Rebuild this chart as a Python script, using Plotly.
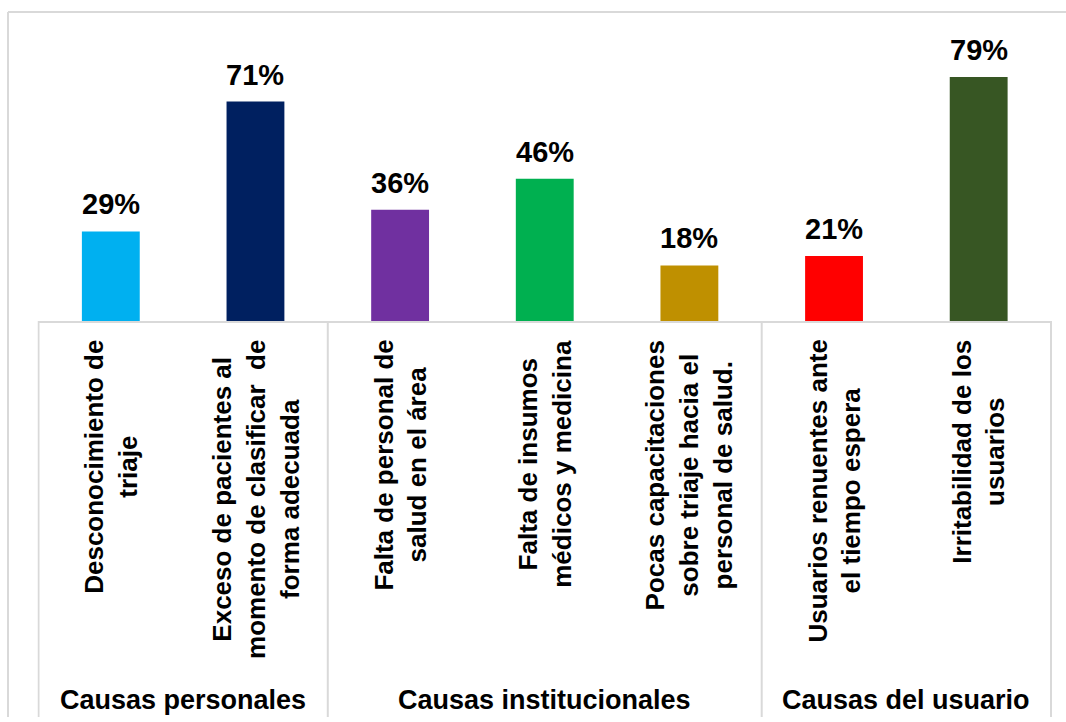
import plotly.graph_objects as go

# Causes grouped by origin, percentage of respondents per cause
groups = ["Causas personales", "Causas institucionales", "Causas del usuario"]
group_sizes = [2, 3, 2]
categories = [
    "Desconocimiento de<br>triaje",
    "Exceso de pacientes al<br>momento de clasificar  de<br>forma adecuada",
    "Falta de personal de<br>salud en el área",
    "Falta de insumos<br>médicos y medicina",
    "Pocas capacitaciones<br>sobre triaje hacia el<br>personal de salud.",
    "Usuarios renuentes ante<br>el tiempo espera",
    "Irritabilidad de los<br>usuarios",
]
values = [29, 71, 36, 46, 18, 21, 79]
colors = ["#00B0F0", "#002060", "#7030A0", "#00B050", "#BF9000", "#FF0000", "#375623"]

W, H = 1066, 722
FONT = "Arial, Liberation Sans, sans-serif"
GRID = "#D9D9D9"

# plot area in pixels
x_left, x_right = 37.5, 1052
y_top, y_base = 12, 321


def py(y):
    """pixel row -> paper fraction"""
    return 1 - y / H


fig = go.Figure()
fig.add_trace(go.Bar(
    x=categories,
    y=values,
    marker=dict(color=colors, line=dict(width=0)),
    width=0.4,
    hoverinfo="skip",
))

annotations = []
# value labels above bars
for cat, v in zip(categories, values):
    annotations.append(dict(
        x=cat, y=v, xref="x", yref="y", text=f"<b>{v}%</b>",
        showarrow=False, yanchor="bottom", yshift=9,
        font=dict(family=FONT, size=29, color="black"),
    ))
# rotated category labels below the axis
for cat in categories:
    annotations.append(dict(
        x=cat, y=py(338), xref="x", yref="paper", text=f"<b>{cat}</b>",
        showarrow=False, textangle=-90, yanchor="top", align="center",
        font=dict(family=FONT, size=26, color="black"),
    ))
# group labels
start = 0
shapes = []
for g, n in zip(groups, group_sizes):
    center = start + (n - 1) / 2
    annotations.append(dict(
        x=center, y=py(700), xref="x", yref="paper", text=f"<b>{g}</b>",
        showarrow=False, yanchor="middle",
        font=dict(family=FONT, size=27, color="black"),
    ))
    start += n

# group dividers under the axis
bounds = [-0.5]
acc = -0.5
for n in group_sizes:
    acc += n
    bounds.append(acc)
for b in bounds:
    shapes.append(dict(
        type="line", xref="x", yref="paper", x0=b, x1=b,
        y0=py(717), y1=py(y_base), line=dict(color=GRID, width=2),
    ))

# outer chart frame
fx = 8 / W
shapes.append(dict(type="line", xref="paper", yref="paper",
                   x0=fx, x1=fx, y0=py(717), y1=py(12),
                   line=dict(color=GRID, width=2)))
shapes.append(dict(type="line", xref="paper", yref="paper",
                   x0=fx, x1=1.02, y0=py(12), y1=py(12),
                   line=dict(color=GRID, width=2)))

fig.update_layout(
    width=W, height=H,
    margin=dict(l=0, r=0, t=0, b=0),
    paper_bgcolor="white", plot_bgcolor="white",
    showlegend=False,
    annotations=annotations,
    shapes=shapes,
    xaxis=dict(
        domain=[x_left / W, x_right / W],
        type="category",
        showticklabels=False, ticks="",
        showline=True, linecolor=GRID, linewidth=2,
        showgrid=False, zeroline=False, fixedrange=True,
    ),
    yaxis=dict(
        domain=[py(y_base), py(y_top)],
        range=[0, 100],
        visible=False, showgrid=False, zeroline=False, fixedrange=True,
    ),
)

fig.write_html("out.html")
